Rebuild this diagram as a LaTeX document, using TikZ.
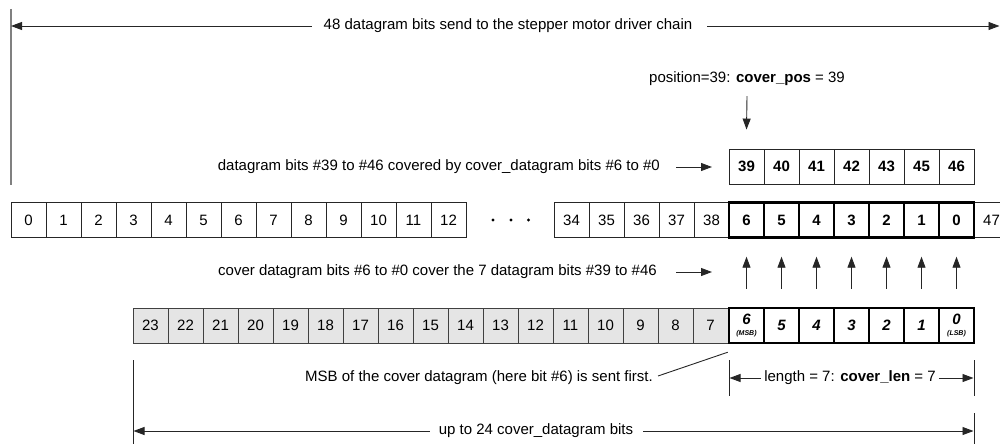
\documentclass[tikz,border=0pt]{standalone}
\usepackage{fontspec}
\setmainfont{Liberation Sans}
\usetikzlibrary{arrows.meta}
\begin{document}
\begin{tikzpicture}[x=1pt,y=-1pt,
  font=\fontsize{15}{18}\selectfont,
  thinline/.style={draw=black!85, line width=0.9pt},
  cell/.style={thinline, minimum width=35pt, minimum height=35pt, inner sep=0pt},
  boldcell/.style={draw=black, line width=2.4pt, minimum width=35pt, minimum height=35pt, inner sep=0pt, font=\fontsize{15}{18}\selectfont\bfseries},
  graycell/.style={draw=black!75, line width=0.9pt, fill=black!10, minimum width=35pt, minimum height=35pt, inner sep=0pt},
  covcell/.style={thinline, minimum width=35pt, minimum height=35pt, inner sep=0pt, font=\fontsize{15}{18}\selectfont\bfseries},
  lbl/.style={inner sep=0pt},
  arr/.style={thinline, -{Triangle[length=11pt,width=8pt]}},
  dimline/.style={thinline},
  dotmark/.style={circle, fill=black, inner sep=0pt, minimum size=3.2pt}
]
\useasboundingbox (0,0) rectangle (1000,444);

% ---- top dimension: 48 datagram bits
\draw[draw=black!50, line width=1.4pt] (11,9) coordinate (tlt) -- (11,185) coordinate (tlb);
\coordinate (tl) at (11,26);
\coordinate (tr) at (999.5,26);
\node[lbl] (top) at (508,26) {48 datagram bits send to the stepper motor driver chain};
\draw[arr] ([xshift=-12pt]top.west) -- (tl);
\draw[arr] ([xshift=15pt]top.east) -- (tr);

% ---- main datagram row
\foreach \i in {0,...,12}
  \node[cell] (m\i) at ({28.5+35*\i},220) {\i};
\foreach \i in {34,...,38}
  \node[cell] (m\i) at ({571.5+35*(\i-34)},220) {\i};
\node[cell] (m47) at (991.5,220) {47};
\node[dotmark] (d1) at (493,220) {};
\node[dotmark] (d2) at (511,220) {};
\node[dotmark] (d3) at (528.5,220) {};
\foreach \k in {0,...,6} {
  \pgfmathtruncatemacro{\lab}{6-\k}
  \node[boldcell] (b\lab) at ({746.5+35*\k},220) {\lab};
}

% ---- covered row 39..46
\foreach \v [count=\k from 0] in {39,40,41,42,43,45,46}
  \node[covcell] (c\v) at ({746.5+35*\k},166.5) {\v};

% ---- position label
\node[lbl] (pos) at (747,79) {position=39: \textbf{cover\_pos} = 39};
\draw[arr] ([yshift=-10pt]pos.south) -- ([yshift=19pt]c39.north);

% ---- label for covered row
\node[lbl, anchor=east] (lab1) at (660,167) {datagram bits \#39 to \#46 covered by cover\_datagram bits \#6 to \#0};
\coordinate (a1end) at (712,167);
\draw[arr] ([xshift=16pt]lab1.east) -- (a1end);

% ---- middle label
\node[lbl, anchor=east] (lab2) at (657,272) {cover datagram bits \#6 to \#0 cover the 7 datagram bits \#39 to \#46};
\coordinate (a2end) at (712,272);
\draw[arr] ([xshift=19pt]lab2.east) -- (a2end);

% ---- cover datagram row
\foreach \k in {0,...,16} {
  \pgfmathtruncatemacro{\lab}{23-\k}
  \node[graycell] (g\lab) at ({150.5+35*\k},325.5) {\lab};
}
\node[boldcell, align=center, font=\bfseries\itshape] (v6) at (746.5,325.5)
  {{\fontsize{15}{15}\selectfont 6}\\[-1pt]{\fontsize{7}{7}\selectfont (MSB)}};
\foreach \k in {1,...,5} {
  \pgfmathtruncatemacro{\lab}{6-\k}
  \node[boldcell, font=\fontsize{15}{18}\selectfont\bfseries\itshape] (v\lab) at ({746.5+35*\k},325.5) {\lab};
}
\node[boldcell, align=center, font=\bfseries\itshape] (v0) at (956.5,325.5)
  {{\fontsize{15}{15}\selectfont 0}\\[-1pt]{\fontsize{7}{7}\selectfont (LSB)}};

% ---- up arrows
\foreach \i in {6,5,4,3,2,1,0}
  \draw[arr] ([yshift=18pt]v\i.north) -- ([yshift=-18pt]b\i.south);

% ---- MSB note
\node[lbl, anchor=east] (msb) at (653,378) {MSB of the cover datagram (here bit \#6) is sent first.};
\draw[thinline] ([xshift=5pt,yshift=2pt]msb.east) -- ([yshift=-8pt]v6.south west);

% ---- length dimension
\draw[dimline] (729,360) coordinate (lA) -- (729,396);
\draw[dimline] (974,360) coordinate (lB) -- (974,396);
\coordinate (lL) at (729.5,378);
\coordinate (lR) at (973.5,378);
\node[lbl] (len) at (850,378) {length = 7: \textbf{cover\_len} = 7};
\draw[arr] ([xshift=-3pt]len.west) -- (lL);
\draw[arr] ([xshift=3pt]len.east) -- (lR);

% ---- up to 24 bits
\draw[dimline] (133,360) -- (133,444);
\draw[dimline] (974,413) -- (974,444);
\coordinate (uL) at (133.5,431);
\coordinate (uR) at (973.5,431);
\node[lbl] (up) at (536,431) {up to 24 cover\_datagram bits};
\draw[arr] ([xshift=-9pt]up.west) -- (uL);
\draw[arr] ([xshift=10pt]up.east) -- (uR);
\end{tikzpicture}
\end{document}
